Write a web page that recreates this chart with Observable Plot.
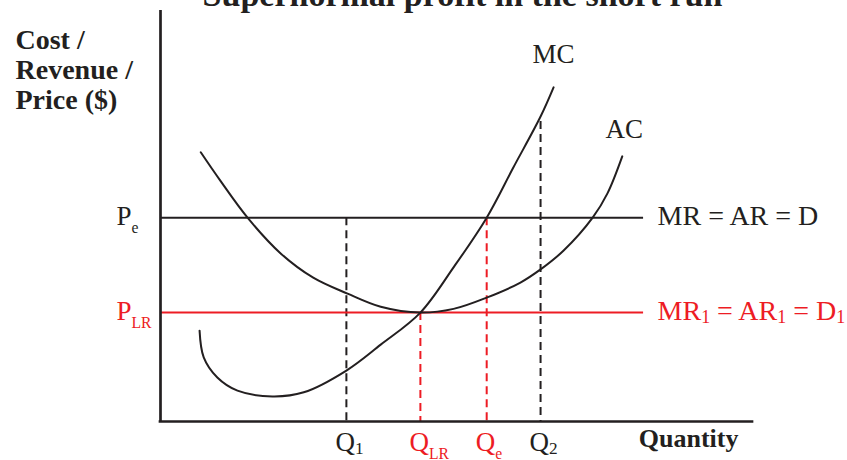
<!DOCTYPE html>
<html>
<head>
<meta charset="utf-8">
<script src="https://cdn.jsdelivr.net/npm/d3@7"></script>
<script src="https://cdn.jsdelivr.net/npm/@observablehq/plot@0.6"></script>
<style>
  html, body { margin: 0; padding: 0; background: #fff; }
</style>
</head>
<body>
<div id="chart"></div>
<script>
// ---- Data (quantity on x, cost / price on y, both in arbitrary 0–100 units) ----

// Marginal cost curve
const mcQuantity = [6.6, 7.3, 9.6, 13.0, 18.9, 24.2, 31.4, 37.2, 43.9, 49.5, 55.1, 59.6, 64.2, 66.4];
const mcCost     = [22.1, 15.6, 10.7, 7.5, 6.1, 7.1, 12.4, 18.7, 26.5, 37.5, 49.6, 61.8, 74.2, 81.3];

// Average cost curve
const acQuantity = [6.8, 10.1, 14.7, 20.3, 25.8, 31.6, 37.2, 43.9, 49.5, 55.2, 60.8, 64.2, 68.1, 73.0, 75.5, 78.0];
const acCost     = [65.5, 58.6, 49.6, 40.9, 35.0, 31.1, 27.9, 26.5, 27.4, 30.2, 33.8, 37.0, 41.6, 49.6, 55.5, 64.5];

// Price levels and the demand lines drawn at them
const priceLabels  = ["P_{e}", "P_{LR}"];
const priceValues  = [49.6, 26.5];
const demandLabels = ["MR = AR = D", "MR_{1} = AR_{1} = D_{1}"];
const demandEnd    = 81.6;

// Output levels with the height where each guide meets its curve / price line
const quantityLabels = ["Q_{1}", "Q_{LR}", "Q_{e}", "Q_{2}"];
const quantityValues = [31.4, 43.9, 55.1, 64.2];
const quantityTops   = [49.6, 26.5, 49.6, 73.0];

const titleText = "Supernormal profit in the short run";
const yTitle = "Cost /\nRevenue /\nPrice ($)";
const xTitle = "Quantity";

// ---- Styling ----
const INK = "#231f20";
const RED = "#ed1c24";
const priceColors = [INK, RED];
const quantityColors = [INK, RED, RED, INK];
const SERIF = "'Liberation Serif', 'Times New Roman', serif";

// ---- Tables built from the arrays ----
const mc = mcQuantity.map((q, i) => ({q, c: mcCost[i]}));
const ac = acQuantity.map((q, i) => ({q, c: acCost[i]}));
const prices = priceValues.map((p, i) => ({p, label: priceLabels[i], demand: demandLabels[i], color: priceColors[i]}));
const quantities = quantityValues.map((q, i) => ({q, top: quantityTops[i], label: quantityLabels[i], color: quantityColors[i]}));

const chart = Plot.plot({
  width: 847,
  height: 460,
  marginLeft: 160,
  marginRight: 95,
  marginTop: 10,
  marginBottom: 39,
  x: {domain: [0, 100], axis: null},
  y: {domain: [0, 100], axis: null},
  style: {fontFamily: SERIF, color: INK, background: "#fff"},
  marks: [
    // dashed guides from the curves down to the quantity axis
    Plot.ruleX(quantities, {x: "q", y1: "top", y2: 0, stroke: "color", strokeWidth: 2, strokeDasharray: "8,5"}),
    // demand / price lines
    Plot.ruleY(prices, {y: "p", x1: 0, x2: demandEnd, stroke: "color", strokeWidth: 2}),
    // cost curves
    Plot.line(ac, {x: "q", y: "c", curve: "catmull-rom", stroke: INK, strokeWidth: 2}),
    Plot.line(mc, {x: "q", y: "c", curve: "catmull-rom", stroke: INK, strokeWidth: 2}),
    // axes
    Plot.ruleX([0], {stroke: INK, strokeWidth: 2.7}),
    Plot.ruleY([0], {x1: 0, x2: 100, stroke: INK, strokeWidth: 2.7, strokeLinecap: "square"}),
    // curve names at the upper ends
    Plot.text([mc[mc.length - 1]], {x: "q", y: "c", text: () => "MC", fontSize: 27, fill: INK, textAnchor: "middle", lineAnchor: "bottom", dy: -24}),
    Plot.text([ac[ac.length - 1]], {x: "q", y: "c", text: () => "AC", fontSize: 27, fill: INK, textAnchor: "middle", lineAnchor: "bottom", dy: -18, dx: 2}),
    // price labels on the left, demand labels on the right
    Plot.text(prices, {x: 0, y: "p", text: "label", fill: "color", fontSize: 27, textAnchor: "start", lineAnchor: "bottom", dx: -44, dy: 7}),
    Plot.text(prices, {x: demandEnd, y: "p", text: "demand", fill: "color", fontSize: 28, textAnchor: "start", lineAnchor: "bottom", dx: 14, dy: 7}),
    // quantity labels
    Plot.text(quantities, {x: "q", y: 0, text: "label", fill: "color", fontSize: 27, textAnchor: "start", lineAnchor: "bottom", dx: -11, dy: 29}),
    // axis titles
    Plot.text([xTitle], {frameAnchor: "bottom-right", fontSize: 26, fontWeight: "bold", fill: INK, textAnchor: "end", lineAnchor: "bottom", dx: -14, dy: 25}),
    Plot.text([yTitle], {frameAnchor: "top-left", fontSize: 28, fontWeight: "bold", fill: INK, textAnchor: "start", lineAnchor: "bottom", lineHeight: 30 / 28, dx: -145, dy: 98}),
    // chart title
    Plot.text([titleText], {frameAnchor: "top", fontSize: 34, fontWeight: "bold", fill: INK, textAnchor: "middle", lineAnchor: "bottom", dx: 6, dy: -5})
  ]
});

document.getElementById("chart").appendChild(chart);

// Turn "_{...}" markers into subscript tspans
function applySubscripts(svg) {
  const NS = "http://www.w3.org/2000/svg";
  d3.select(svg).selectAll("text").each(function () {
    const s = this.textContent;
    if (!s.includes("_{")) return;
    const base = parseFloat(getComputedStyle(this).fontSize) || 27;
    const parts = s.split(/(_\{[^}]*\})/).filter(Boolean);
    this.textContent = "";
    let pending = 0;
    for (const part of parts) {
      const t = document.createElementNS(NS, "tspan");
      if (part.startsWith("_{")) {
        const sub = part.slice(2, -1);
        const digit = /^\d+$/.test(sub);
        const shift = digit ? 3 : 8;
        t.setAttribute("font-size", (digit ? 0.64 : 0.58) * base);
        t.setAttribute("dy", shift + pending);
        t.textContent = sub;
        pending = -shift;
      } else {
        if (pending) t.setAttribute("dy", pending);
        t.textContent = part;
        pending = 0;
      }
      this.appendChild(t);
    }
  });
}
applySubscripts(chart);
</script>
</body>
</html>
